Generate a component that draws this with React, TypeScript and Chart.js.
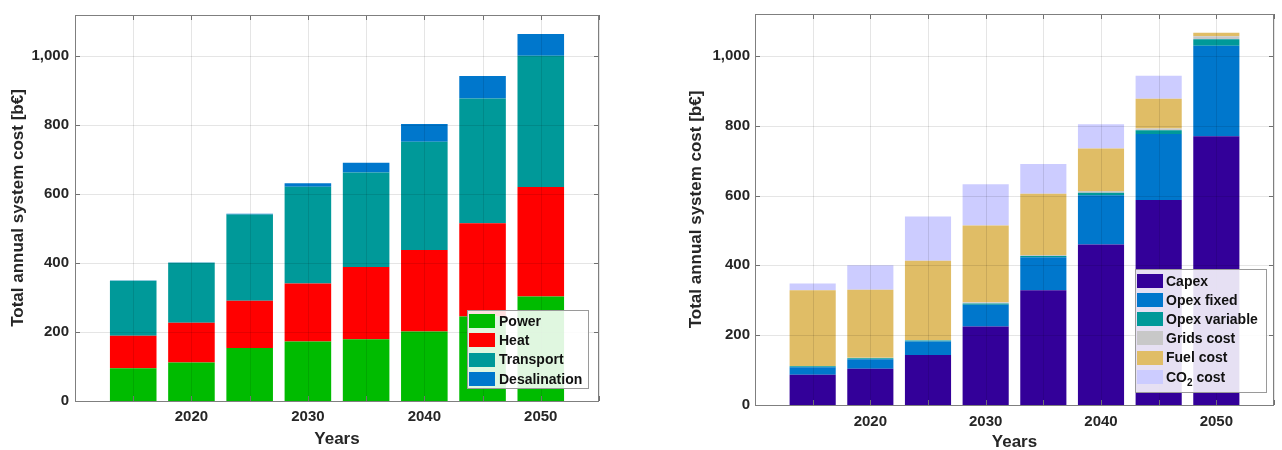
import React, { useEffect, useRef } from 'react';
import { Chart, registerables } from 'chart.js';
Chart.register(...registerables);

// ---------- Data ----------
const years = [2015, 2020, 2025, 2030, 2035, 2040, 2045, 2050];
const xLabelYears = [2020, 2030, 2040, 2050];

// Left chart: cost by sector [b€]
const power = [95, 112, 154, 173, 179, 202, 245, 303];
const heat = [94, 115, 137, 168, 210, 236, 271, 318];
const transport = [160, 174, 250, 281, 274, 314, 362, 381];
const desalination = [1, 1, 2, 10, 28, 52, 65, 63];

// Right chart: cost by type [b€]
const capex = [87, 104, 143, 225, 329, 460, 587, 770];
const opexFixed = [21, 27, 39, 62, 94, 141, 189, 259];
const opexVariable = [3, 3, 3, 4, 4, 7, 11, 19];
const gridsCost = [1, 1, 1, 3, 3, 5, 5, 8];
const fuelCost = [217, 195, 227, 220, 175, 122, 85, 10];
const co2Cost = [19, 70, 127, 118, 85, 69, 66, 0];

const sectorLabels = ['Power', 'Heat', 'Transport', 'Desalination'];
const sectorColors = ['#00BB00', '#FF0000', '#009999', '#0077CC'];
const costLabels = ['Capex', 'Opex fixed', 'Opex variable', 'Grids cost', 'Fuel cost', 'CO₂ cost'];
const costColors = ['#330099', '#0077CC', '#009999', '#C8C8C8', '#E0BD66', '#CCCCFF'];

const yTitle = 'Total annual system cost [b€]';
const xTitle = 'Years';
const yMax = 1120;
const yStep = 200;

const FONT = '"Liberation Sans", Arial, Helvetica, sans-serif';
const TXT = '#262626';

type LegendCfg = { w: number; h: number; mr: number; mb: number; first: number; row: number; sx: number; tx: number };

const decorPlugin = (lg: LegendCfg) => ({
  id: 'matlabDecor',
  afterDatasetsDraw(chart: any) {
    const { ctx, chartArea: a, scales } = chart;
    const x = scales.x, y = scales.y;
    ctx.save();
    // grid on top of bars (MATLAB style)
    ctx.strokeStyle = 'rgba(0,0,0,0.1)';
    ctx.lineWidth = 1;
    x.ticks.forEach((t: any) => {
      const px = Math.round(x.getPixelForValue(t.value)) + 0.5;
      ctx.beginPath(); ctx.moveTo(px, a.top); ctx.lineTo(px, a.bottom); ctx.stroke();
    });
    y.ticks.forEach((t: any) => {
      const py = Math.round(y.getPixelForValue(t.value)) + 0.5;
      ctx.beginPath(); ctx.moveTo(a.left, py); ctx.lineTo(a.right, py); ctx.stroke();
    });
    // inward tick marks
    ctx.strokeStyle = '#707070';
    x.ticks.forEach((t: any) => {
      const px = Math.round(x.getPixelForValue(t.value)) + 0.5;
      ctx.beginPath(); ctx.moveTo(px, a.bottom); ctx.lineTo(px, a.bottom - 5); ctx.stroke();
      ctx.beginPath(); ctx.moveTo(px, a.top); ctx.lineTo(px, a.top + 5); ctx.stroke();
    });
    y.ticks.forEach((t: any) => {
      const py = Math.round(y.getPixelForValue(t.value)) + 0.5;
      ctx.beginPath(); ctx.moveTo(a.left, py); ctx.lineTo(a.left + 5, py); ctx.stroke();
      ctx.beginPath(); ctx.moveTo(a.right, py); ctx.lineTo(a.right - 5, py); ctx.stroke();
    });
    // box
    ctx.strokeStyle = '#7f7f7f';
    ctx.strokeRect(Math.round(a.left) + 0.5, Math.round(a.top) + 0.5, Math.round(a.right - a.left) - 1, Math.round(a.bottom - a.top));
    ctx.restore();
  },
  afterDraw(chart: any) {
    const { ctx, chartArea: a } = chart;
    const bx = Math.round(a.right - lg.mr - lg.w);
    const by = Math.round(a.bottom - lg.mb - lg.h);
    ctx.save();
    ctx.fillStyle = 'rgba(255,255,255,0.88)';
    ctx.fillRect(bx, by, lg.w, lg.h);
    ctx.strokeStyle = '#9a9a9a';
    ctx.lineWidth = 1;
    ctx.strokeRect(bx + 0.5, by + 0.5, lg.w, lg.h);
    chart.data.datasets.forEach((d: any, i: number) => {
      const cy = by + lg.first + i * lg.row;
      ctx.fillStyle = d.backgroundColor;
      ctx.fillRect(bx + lg.sx, Math.round(cy - 7), 26, 14);
      ctx.fillStyle = '#111';
      ctx.textBaseline = 'middle';
      ctx.textAlign = 'left';
      const parts = String(d.label).split('₂');
      let tx = bx + lg.tx;
      ctx.font = `bold 14px ${FONT}`;
      ctx.fillText(parts[0], tx, cy + 1);
      tx += ctx.measureText(parts[0]).width;
      if (parts.length > 1) {
        ctx.font = `bold 10px ${FONT}`;
        ctx.fillText('2', tx, cy + 6);
        tx += ctx.measureText('2').width;
        ctx.font = `bold 14px ${FONT}`;
        ctx.fillText(parts[1], tx, cy + 1);
      }
    });
    ctx.restore();
  },
});

type Cfg = {
  labels: string[];
  colors: string[];
  series: number[][];
  pad: { top: number; right: number };
  yWidth: number;
  xHeight: number;
  yTitlePad: number;
  xTickPad: number;
  xTitlePadBottom: number;
  yTickPad: number;
  legend: LegendCfg;
};

function StackChart({ cfg, width }: { cfg: Cfg; width: number }) {
  const ref = useRef<HTMLCanvasElement | null>(null);
  useEffect(() => {
    if (!ref.current) return;
    const datasets = cfg.series.map((vals, i) => ({
      label: cfg.labels[i],
      backgroundColor: cfg.colors[i],
      borderWidth: 0,
      data: years.map((yr, j) => ({ x: yr, y: vals[j] })),
      categoryPercentage: 1,
      barPercentage: 0.8,
    }));
    const chart = new Chart(ref.current, {
      type: 'bar',
      data: { datasets },
      plugins: [decorPlugin(cfg.legend)],
      options: {
        animation: false,
        responsive: false,
        maintainAspectRatio: false,
        layout: { padding: { top: cfg.pad.top, right: cfg.pad.right, left: 0, bottom: 0 } },
        plugins: { legend: { display: false }, tooltip: { enabled: false } },
        scales: {
          x: {
            type: 'linear',
            stacked: true,
            offset: false,
            min: 2010,
            max: 2055,
            grid: { display: false, drawTicks: false, offset: false },
            border: { display: false },
            ticks: {
              stepSize: 5,
              autoSkip: false,
              maxRotation: 0,
              includeBounds: false,
              padding: cfg.xTickPad,
              color: TXT,
              font: { family: FONT, size: 15, weight: 'bold' },
              callback: (v: any) => (xLabelYears.includes(Number(v)) ? String(v) : ''),
            },
            title: {
              display: true,
              text: xTitle,
              color: TXT,
              font: { family: FONT, size: 17, weight: 'bold' },
              padding: { top: 0, bottom: cfg.xTitlePadBottom },
            },
            afterFit: (s: any) => { s.height = cfg.xHeight; },
          },
          y: {
            stacked: true,
            min: 0,
            max: yMax,
            grid: { display: false, drawTicks: false },
            border: { display: false },
            ticks: {
              stepSize: yStep,
              includeBounds: false,
              padding: cfg.yTickPad,
              color: TXT,
              font: { family: FONT, size: 15, weight: 'bold' },
            },
            title: {
              display: true,
              text: yTitle,
              color: TXT,
              font: { family: FONT, size: 17, weight: 'bold' },
              padding: { top: cfg.yTitlePad, bottom: 0 },
            },
            afterFit: (s: any) => { s.width = cfg.yWidth; },
          },
        },
      } as any,
    });
    return () => chart.destroy();
  }, [cfg]);
  return <canvas ref={ref} width={width} height={450} style={{ display: 'block', width, height: 450 }} />;
}

const leftCfg: Cfg = {
  labels: sectorLabels,
  colors: sectorColors,
  series: [power, heat, transport, desalination],
  pad: { top: 13, right: 41 },
  yWidth: 75,
  xHeight: 49,
  yTitlePad: 8,
  xTickPad: 7,
  xTitlePadBottom: 0,
  yTickPad: 6,
  legend: { w: 121, h: 78, mr: 11, mb: 13, first: 11, row: 19.3, sx: 2, tx: 32 },
};

const rightCfg: Cfg = {
  labels: costLabels,
  colors: costColors,
  series: [capex, opexFixed, opexVariable, gridsCost, fuelCost, co2Cost],
  pad: { top: 14, right: 1 },
  yWidth: 115,
  xHeight: 45,
  yTitlePad: 46,
  xTickPad: 8,
  xTitlePadBottom: -3,
  yTickPad: 5,
  legend: { w: 131, h: 123, mr: 8, mb: 13, first: 12, row: 19.15, sx: 2, tx: 31 },
};

export default function App() {
  return (
    <div style={{ position: 'absolute', left: 0, top: 0, width: 1282, height: 450, background: '#fff', overflow: 'hidden' }}>
      <div style={{ position: 'absolute', left: 0, top: 0 }}>
        <StackChart cfg={leftCfg} width={640} />
      </div>
      <div style={{ position: 'absolute', left: 640, top: 0 }}>
        <StackChart cfg={rightCfg} width={642} />
      </div>
    </div>
  );
}
